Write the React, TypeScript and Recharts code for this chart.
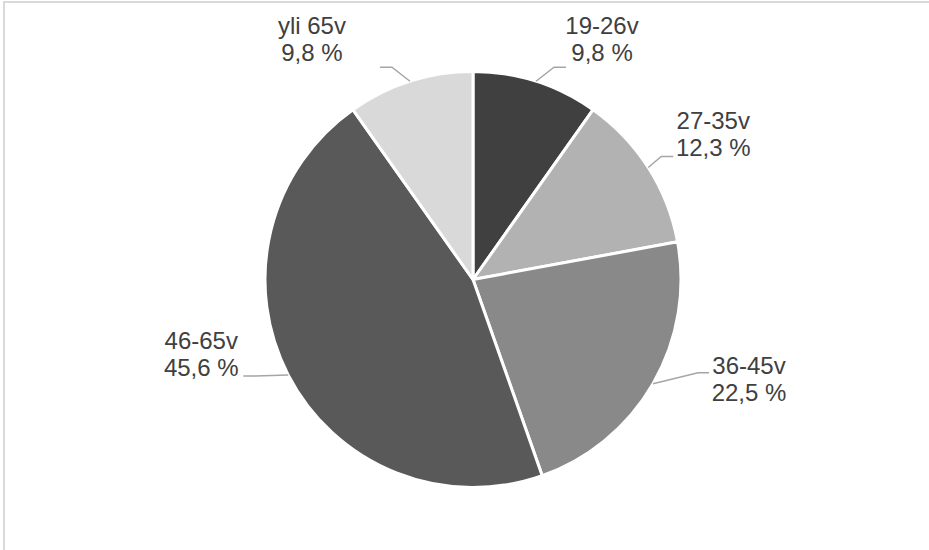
import { PieChart, Pie, Cell } from "recharts";

const ageGroups = ["19-26v", "27-35v", "36-45v", "46-65v", "yli 65v"];
const shares = [9.8, 12.3, 22.5, 45.6, 9.8];
const sliceColors = ["#404040", "#b2b2b2", "#898989", "#595959", "#d9d9d9"];

// label layout relative to the slice's outer edge point (elbow, line end, text centre)
const labelLayout = [
  { elbow: [18, -14], end: [30, -14], text: [66, -47] },
  { elbow: [13, -11], end: [25, -11], text: [65, -38] },
  { elbow: [45, -11], end: [56, -11], text: [96, -10] },
  { elbow: [-33, 1], end: [-45, 1], text: [-87, -26] },
  { elbow: [-18, -14], end: [-30, -14], text: [-98, -47] },
];

const data = ageGroups.map((name, i) => ({ name, value: shares[i] }));

const RAD = Math.PI / 180;

const fmt = (v: number) => v.toFixed(1).replace(".", ",") + " %";

function renderLabel(props: any) {
  const { cx, cy, midAngle, outerRadius, index } = props;
  const ex = cx + outerRadius * Math.cos(-midAngle * RAD);
  const ey = cy + outerRadius * Math.sin(-midAngle * RAD);
  const l = labelLayout[index];
  const tx = ex + l.text[0];
  const ty = ey + l.text[1];
  return (
    <g key={`lbl-${index}`}>
      <polyline
        points={`${ex},${ey} ${ex + l.elbow[0]},${ey + l.elbow[1]} ${ex + l.end[0]},${ey + l.end[1]}`}
        fill="none"
        stroke="#a6a6a6"
        strokeWidth={1.5}
      />
      <text
        x={tx}
        y={ty}
        textAnchor="middle"
        fill="#404040"
        fontSize={24}
        fontFamily="'Liberation Sans', Arial, sans-serif"
      >
        <tspan x={tx}>{data[index].name}</tspan>
        <tspan x={tx} dy={27}>
          {fmt(data[index].value)}
        </tspan>
      </text>
    </g>
  );
}

export default function App() {
  return (
    <div
      style={{
        position: "fixed",
        left: -4,
        top: -4,
        width: 940,
        height: 560,
        overflow: "hidden",
        background: "#fff",
      }}
    >
      <div
        style={{
          position: "absolute",
          left: 7,
          top: 5,
          width: 1000,
          height: 1000,
          border: "2px solid #d9d9d9",
        }}
      />
      <div style={{ position: "absolute", left: 0, top: 0 }}>
        <PieChart width={940} height={560}>
          <Pie
            data={data}
            dataKey="value"
            nameKey="name"
            cx={472}
            cy={278.5}
            outerRadius={208}
            startAngle={90}
            endAngle={-270}
            stroke="#ffffff"
            strokeWidth={3}
            label={renderLabel}
            labelLine={false}
            isAnimationActive={false}
          >
            {data.map((d, i) => (
              <Cell key={d.name} fill={sliceColors[i]} />
            ))}
          </Pie>
        </PieChart>
      </div>
    </div>
  );
}
